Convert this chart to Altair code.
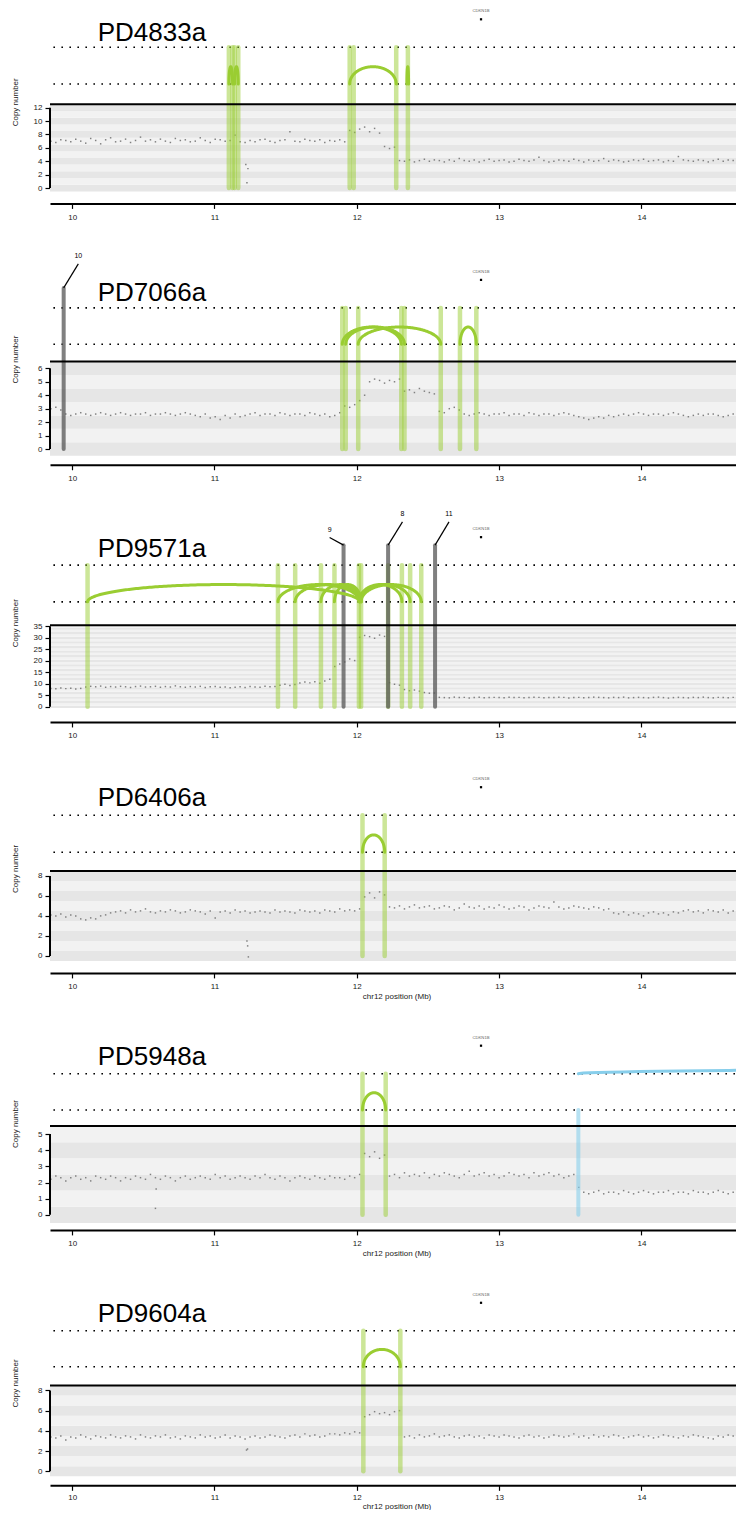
import altair as alt
import pandas as pd

FONT = "Liberation Sans"
PX_PER_MB = 142.3
PLOT_W = 693
X_DOMAIN = [9.844, 9.844 + PLOT_W / PX_PER_MB]
BIN_START = 9.85
BIN_STEP = 0.035
SPACING = 45
PAGE_TOP = 8
ARC_PX = 17.3
RIGHT_TRIM = -8.5

samples = ["PD4833a", "PD7066a", "PD9571a", "PD6406a", "PD5948a", "PD9604a"]
cn_max = [12, 6, 35, 8, 5, 8]
cn_ticks = [[0, 2, 4, 6, 8, 10, 12], [0, 1, 2, 3, 4, 5, 6], [0, 5, 10, 15, 20, 25, 30, 35],
            [0, 2, 4, 6, 8], [0, 1, 2, 3, 4, 5], [0, 2, 4, 6, 8]]
x_ticks = [10, 11, 12, 13, 14]
px_per_cn = [6.70, 13.45, 2.30, 10.0, 16.15, 10.1]
solid_y = [104.3, 361.0, 624.3, 870.0, 1125.0, 1384.3]
dot1_px = [57.0, 53.7, 60.0, 55.7, 52.3, 54.6]
dot2_px = [20.3, 17.3, 23.3, 18.7, 16.0, 18.7]
name_px = [63.6, 61.0, 68.3, 65.0, 61.0, 63.0]
axis_off = [12, 9, 14, 12, 7, 9]
label_pad = [5, 5, 5, 5, 5, 3]
title_pad = [2, 2, 2, 2, 2, 1]
has_xtitle = [False, False, False, True, True, True]

# copy-number bins (one value per 35 kb bin from 9.85 Mb)
cn_values = {
    "PD4833a": [
        7.0, 6.8, 7.2, 7.1, 6.9, 7.3, 7.0, 6.7, 7.4, 7.1, 6.6, 7.2, 7.5, 6.9, 7.0, 7.3, 6.8, 7.1, 7.6, 7.0,
        7.2, 6.9, 7.3, 7.0, 6.8, 7.4, 7.1, 7.2, 6.9, 7.0, 7.5, 7.1, 6.8, 7.3, 7.2, 7.0,
        7.1, 7.9, 6.9, 6.8,
        7.1, 6.9, 7.2, 7.3, 7.0, 6.8, 7.1, 7.2, 8.4, 7.0, 6.9, 7.3, 7.1, 7.0, 7.2, 6.8, 7.1, 7.0, 7.2, 6.9,
        8.6, 8.3, 8.8, 9.1, 8.4, 8.9, 8.2, 6.2, 5.9, 6.1,
        4.1, 4.0, 4.2, 3.9, 4.1, 4.3, 4.0, 4.2, 4.1, 3.9, 4.2, 4.0, 4.4, 4.1, 4.0, 4.2, 3.9, 4.1, 4.3, 4.0,
        4.1, 4.2, 3.9, 4.0, 4.3, 4.1, 4.0, 4.2, 4.6, 4.1, 3.9, 4.0, 4.2, 4.1, 4.0, 4.3, 4.1, 3.9, 4.2, 4.0,
        4.1, 4.4, 4.0, 4.2, 4.1, 3.9, 4.0, 4.2, 4.1, 4.3, 4.0, 4.1, 4.2, 3.9, 4.1, 4.0, 4.7, 4.2, 4.1, 4.0,
        4.2, 4.1, 3.9, 4.1, 4.3, 4.0, 4.2, 4.1, 4.0, 4.2],
    "PD7066a": [
        3.0, 3.1, 2.9, 2.6,
        2.5, 2.6, 2.7, 2.6, 2.5, 2.6, 2.7, 2.6, 2.5, 2.6, 2.7, 2.6, 2.5, 2.6, 2.6, 2.7, 2.5, 2.6, 2.6, 2.7,
        2.6, 2.5, 2.6, 2.7, 2.6, 2.5, 2.4, 2.6, 2.3, 2.4, 2.2, 2.5, 2.3, 2.6, 2.4, 2.5, 2.6, 2.7, 2.5, 2.6,
        2.6, 2.5, 2.7, 2.6, 2.5, 2.6, 2.6, 2.5, 2.7, 2.6, 2.5, 2.6, 2.4, 2.5, 2.7,
        3.2, 3.1, 3.3, 3.6, 4.0,
        5.0, 5.2, 5.1, 4.9, 5.1, 5.0, 5.2,
        4.3, 4.4, 4.2, 4.5, 4.3, 4.2, 4.1,
        2.8, 2.7, 3.0, 3.1, 2.9,
        2.6, 2.5, 2.6, 2.7, 2.6, 2.5, 2.6, 2.6, 2.7, 2.5, 2.6, 2.6, 2.5, 2.7, 2.6, 2.5, 2.6, 2.6, 2.5, 2.6,
        2.7, 2.6, 2.5, 2.4, 2.3, 2.2, 2.3, 2.4, 2.3, 2.5, 2.4, 2.5, 2.6, 2.5, 2.6, 2.7, 2.6, 2.5, 2.6, 2.6,
        2.5, 2.6, 2.7, 2.6, 2.5, 2.4, 2.5, 2.6, 2.5, 2.6, 2.6, 2.5, 2.4, 2.5, 2.6, 2.5, 2.6],
    "PD9571a": [
        8.0, 7.8, 8.2, 7.9, 8.1, 7.7, 8.0,
        8.6, 8.9, 8.7, 9.0, 8.5, 8.8, 8.6, 8.9, 8.7, 8.4, 8.8, 9.0, 8.6, 8.7, 8.9, 8.5, 8.8, 8.6, 9.1, 8.7,
        8.5, 8.8, 8.6, 8.9, 8.4, 8.7, 8.8, 8.5, 8.6, 8.3, 8.5, 8.7, 8.4, 8.8, 8.6, 8.5, 8.9, 8.7, 8.8,
        9.4, 9.8, 9.3, 9.7,
        10.3, 10.8, 10.4, 10.9, 10.2,
        11.2, 12.0, 17.5, 18.6, 19.5, 20.8, 20.1,
        30.2, 31.0, 30.5, 29.8, 31.2, 30.6,
        10.5, 9.8, 9.4, 7.5, 7.0, 7.3, 6.8, 6.2, 5.9, 6.0,
        4.1, 4.0, 3.9, 4.2, 4.0, 4.1, 3.8, 4.0, 4.2, 3.9, 4.0, 4.1, 4.0, 3.9, 4.2, 4.0, 4.1, 3.9, 4.0, 4.2,
        4.1, 3.9, 4.0, 4.0, 4.2, 4.1, 3.8, 4.0, 4.1, 3.9, 4.0, 4.2, 4.1, 4.0, 3.9, 4.1, 4.0, 4.2, 3.9, 4.0,
        4.1, 4.0, 3.9, 4.1, 4.2, 4.0, 3.8, 4.0, 4.1, 4.0, 3.9, 4.1, 4.0, 4.2, 4.0, 3.9, 4.1, 4.0, 3.9, 4.1,
        4.0, 3.9],
    "PD6406a": [
        4.1, 4.0, 4.2, 3.9, 4.1, 4.0, 3.7, 3.6, 3.8, 3.7, 4.0, 4.1,
        4.3, 4.4, 4.5, 4.3, 4.6, 4.4, 4.5, 4.7, 4.4, 4.3, 4.5, 4.4, 4.6, 4.5, 4.3, 4.4, 4.6, 4.5, 4.4, 4.2,
        4.5, 3.8, 4.4, 4.5, 4.3, 4.6, 4.4, 4.5, 4.3, 4.4, 4.5, 4.4, 4.3, 4.6, 4.4, 4.5, 4.4, 4.3, 4.6, 4.5,
        4.4, 4.5, 4.3, 4.6, 4.5, 4.4, 4.7, 4.5, 4.6, 4.5, 4.7,
        5.9, 6.3, 5.8, 6.4, 6.1,
        4.9, 4.8, 5.0, 4.7, 4.9, 5.1, 4.8, 4.9, 5.0, 4.7, 4.8, 5.0, 4.9, 4.6, 4.8, 5.2, 4.9, 4.8, 5.0, 4.7,
        4.9, 4.8, 5.1, 4.9, 4.7, 4.8, 5.0, 4.9, 4.6, 4.8, 5.0, 4.9, 4.8, 5.4, 4.9, 4.7, 4.8, 5.0, 4.9, 4.8,
        4.7, 4.9, 4.8, 4.6, 4.7,
        4.3, 4.2, 4.4, 4.1, 4.3, 4.2, 4.0, 4.3, 4.4, 4.2, 4.3, 4.1, 4.4, 4.3, 4.5, 4.6, 4.4, 4.5, 4.3, 4.6,
        4.5, 4.4, 4.6, 4.3, 4.5, 4.4, 4.6],
    "PD5948a": [
        2.2, 2.4, 2.3, 2.1, 2.3, 2.4, 2.2, 2.3, 2.1, 2.4, 2.3, 2.2, 2.4, 2.3, 2.1, 2.3, 2.2, 2.4, 2.3, 2.2,
        2.5, 2.3, 2.2, 2.4, 2.3, 2.1, 2.3, 2.4, 2.2, 2.3, 2.4, 2.3, 2.2, 2.5, 2.3, 2.4, 2.2, 2.3, 2.4, 2.3,
        2.2, 2.4, 2.3, 2.5, 2.3, 2.2, 2.4, 2.3, 2.1, 2.3, 2.4, 2.3, 2.2, 2.4, 2.3, 2.2, 2.4, 2.3, 2.3, 2.2,
        2.4, 2.3, 2.5,
        3.8, 3.6, 3.9, 3.5, 3.7,
        2.4, 2.5, 2.3, 2.6, 2.4, 2.5, 2.4, 2.6, 2.3, 2.5, 2.4, 2.6, 2.5, 2.4, 2.3, 2.5, 2.7, 2.4, 2.5, 2.6,
        2.4, 2.5, 2.3, 2.4, 2.6, 2.5, 2.4, 2.5, 2.3, 2.6, 2.4, 2.5, 2.6, 2.4, 2.5, 2.3, 2.4, 2.5,
        1.7,
        1.4, 1.3, 1.4, 1.5, 1.3, 1.4, 1.4, 1.3, 1.5, 1.4, 1.3, 1.4, 1.5, 1.4, 1.3, 1.4, 1.4, 1.5, 1.3, 1.4,
        1.4, 1.3, 1.5, 1.4, 1.4, 1.3, 1.4, 1.5, 1.4, 1.3, 1.4, 1.4, 1.3],
    "PD9604a": [
        3.4, 3.3, 3.5, 3.1, 3.4, 3.3, 3.6, 3.4, 3.2, 3.5, 3.4, 3.3, 3.6, 3.4, 3.3, 3.5, 3.4, 3.2, 3.6, 3.4,
        3.3, 3.5, 3.4, 3.6, 3.3, 3.4, 3.2, 3.5, 3.4, 3.3, 3.6, 3.4, 3.5, 3.3, 3.4, 3.6, 3.3, 3.5, 3.4, 3.2,
        3.4, 3.5, 3.3, 3.4, 3.6, 3.5, 3.4, 3.3, 3.5, 3.6, 3.4, 3.7, 3.5, 3.6, 3.4, 3.5, 3.7,
        3.7, 3.6, 3.8, 3.7, 3.9, 3.8,
        5.4, 5.6, 5.9, 5.7, 5.8, 5.6, 5.9, 6.0,
        3.4, 3.5, 3.3, 3.6, 3.4, 3.5, 3.7, 3.4, 3.5, 3.6, 3.4, 3.3, 3.5, 3.6, 3.4, 3.5, 3.3, 3.6, 3.5, 3.4,
        3.6, 3.5, 3.4, 3.3, 3.5, 3.6, 3.4, 3.5, 3.3, 3.4, 3.6, 3.5, 3.4, 3.5, 3.7, 3.4, 3.5, 3.3, 3.6, 3.4,
        3.5, 3.4, 3.6, 3.5, 3.3, 3.4, 3.5, 3.6, 3.4, 3.5, 3.3, 3.4, 3.6, 3.5, 3.4, 3.3, 3.5, 3.4, 3.6, 3.5,
        3.4, 3.3, 3.2, 3.5, 3.4, 3.6, 3.5, 3.3, 3.4],
}

# isolated probes that drop out of the segments
outlier_pos = {"PD4833a": [11.220, 11.235, 11.228], "PD6406a": [11.228, 11.233, 11.238],
               "PD5948a": [10.590, 10.585], "PD9604a": [11.225, 11.232]}
outlier_cn = {"PD4833a": [3.5, 2.9, 0.8], "PD6406a": [1.5, 1.0, -0.1],
              "PD5948a": [1.6, 0.4], "PD9604a": [2.1, 2.2]}

# rearrangement breakpoints (Mb)
green_lines = {
    "PD4833a": [11.101, 11.127, 11.141, 11.167, 11.950, 11.978, 12.277, 12.359],
    "PD7066a": [11.898, 11.922, 12.010, 12.313, 12.335, 12.590, 12.725, 12.840],
    "PD9571a": [10.108, 11.446, 11.567, 11.748, 11.843, 12.015, 12.030, 12.220, 12.317, 12.375, 12.453],
    "PD6406a": [12.040, 12.196],
    "PD5948a": [12.040, 12.203],
    "PD9604a": [12.046, 12.306],
}
green_arcs = {
    "PD4833a": [(11.101, 11.127), (11.141, 11.167), (11.950, 12.277), (12.352, 12.364)],
    "PD7066a": [(11.898, 12.313), (11.922, 12.335), (12.010, 12.590), (12.725, 12.840)],
    "PD9571a": [(10.108, 12.020), (11.446, 12.020), (11.567, 12.030), (11.748, 12.030),
                (11.843, 12.030), (12.015, 12.317), (12.020, 12.375), (12.030, 12.453)],
    "PD6406a": [(12.040, 12.196)],
    "PD5948a": [(12.040, 12.203)],
    "PD9604a": [(12.046, 12.306)],
}
grey_lines = {"PD7066a": [9.940], "PD9571a": [11.907, 12.220, 12.550]}
grey_labels = {"PD7066a": ["10"], "PD9571a": ["9", "8", "11"]}
grey_dx = {"PD7066a": [0.103], "PD9571a": [-0.098, 0.101, 0.098]}
grey_dy_px = {"PD7066a": [24.0], "PD9571a": [7.6, 23.3, 23.3]}
blue_lines = {"PD5948a": [13.557]}
blue_arcs = {"PD5948a": [(13.557, 128.8)]}

gene_name = "CDKN1B"
gene_pos = 12.873
y_title = "Copy number"
x_title = "chr12 position (Mb)"

GREEN = "#9acd32"
BLUE = "#87ceeb"

# vertical layout
above = []
prev_bottom = None
for i in range(6):
    plot_top = PAGE_TOP if i == 0 else prev_bottom + SPACING
    above.append(solid_y[i] - plot_top)
    prev_bottom = solid_y[i] + (cn_max[i] + 1) * px_per_cn[i]


def panel(i):
    s = samples[i]
    ppu = px_per_cn[i]
    top = cn_max[i] + 0.5
    A = above[i]
    H = A + (cn_max[i] + 1) * ppu

    def ty(px):
        return top + px / ppu

    xs = alt.Scale(domain=X_DOMAIN, nice=False, zero=False)
    ys = alt.Scale(domain=[-0.5, ty(A)], nice=False, zero=False)
    xaxis_kw = dict(values=x_ticks, format="d", offset=axis_off[i], domainWidth=2, domainColor="black",
                    tickColor="black", tickWidth=1.2, tickSize=5, labelFontSize=8, labelPadding=label_pad[i],
                    labelColor="#222", grid=False)
    if has_xtitle[i]:
        xaxis_kw.update(title=x_title, titleFontSize=8, titleFontWeight="normal", titlePadding=title_pad[i],
                        titleColor="#222")
    else:
        xaxis_kw["title"] = None
    xaxis = alt.Axis(**xaxis_kw)
    yaxis = alt.Axis(values=cn_ticks[i], domain=False, grid=False, tickColor="black", tickWidth=1.2, tickSize=5,
                     labelFontSize=8, labelPadding=3, labelColor="#222", title=None)

    def X(f):
        return alt.X(f, type="quantitative", scale=xs, axis=xaxis)

    def Y(f):
        return alt.Y(f, type="quantitative", scale=ys, axis=yaxis)

    layers = []
    # background bands
    bands = pd.DataFrame({
        "lo": [k - 0.5 for k in range(cn_max[i] + 1)],
        "hi": [k + 0.5 for k in range(cn_max[i] + 1)],
        "shade": ["#e6e6e6" if k % 2 == 0 else "#f2f2f2" for k in range(cn_max[i] + 1)],
        "x0": X_DOMAIN[0], "x1": X_DOMAIN[1]})
    layers.append(alt.Chart(bands).mark_rect().encode(
        x=X("x0"), x2="x1", y=Y("lo"), y2="hi", color=alt.Color("shade:N", scale=None)))

    # copy number probes
    vals = cn_values[s]
    pts = pd.DataFrame({"pos": [round(BIN_START + BIN_STEP * k, 4) for k in range(len(vals))], "cn": vals})
    if s in outlier_pos:
        pts = pd.concat([pts, pd.DataFrame({"pos": outlier_pos[s], "cn": outlier_cn[s]})])
    layers.append(alt.Chart(pts).mark_square(size=2.2, color="#808080", opacity=1).encode(
        x=X("pos"), y=Y("cn")))

    # dotted track guides
    dots = pd.DataFrame({"y": [ty(dot1_px[i]), ty(dot2_px[i])]})
    layers.append(alt.Chart(dots).mark_rule(color="black", strokeWidth=1.6, strokeDash=[1.6, 6.4]).encode(
        y=Y("y")))

    # green breakpoint lines
    gl = pd.DataFrame({"x": green_lines[s], "y0": 0.0, "y1": ty(dot1_px[i])})
    layers.append(alt.Chart(gl).mark_rule(color=GREEN, opacity=0.5, strokeWidth=4.5, strokeCap="round").encode(
        x=X("x"), y=Y("y0"), y2="y1"))

    if s in blue_lines:
        bl = pd.DataFrame({"x": blue_lines[s], "y0": 0.0, "y1": ty(dot2_px[i])})
        layers.append(alt.Chart(bl).mark_rule(color=BLUE, opacity=0.6, strokeWidth=4, strokeCap="round").encode(
            x=X("x"), y=Y("y0"), y2="y1"))

    if s in grey_lines:
        gtop = ty(dot1_px[i] + 20)
        gr = pd.DataFrame({"x": grey_lines[s], "y0": 0.0, "y1": gtop})
        layers.append(alt.Chart(gr).mark_rule(color="#555555", opacity=0.75, strokeWidth=4,
                                              strokeCap="round").encode(x=X("x"), y=Y("y0"), y2="y1"))
        dg = pd.DataFrame({
            "x": grey_lines[s],
            "x2": [a + b for a, b in zip(grey_lines[s], grey_dx[s])],
            "y": gtop,
            "y2": [ty(dot1_px[i] + 20 + d) for d in grey_dy_px[s]],
            "ly": [ty(dot1_px[i] + 20 + d + 7.5) for d in grey_dy_px[s]],
            "label": grey_labels[s]})
        layers.append(alt.Chart(dg).mark_rule(color="black", strokeWidth=1.2).encode(
            x=X("x"), x2="x2", y=Y("y"), y2="y2"))
        layers.append(alt.Chart(dg).mark_text(fontSize=7, color="black", baseline="middle", align="center").encode(
            x=X("x2"), y=Y("ly"), text="label:N"))

    # top border of copy-number panel
    layers.append(alt.Chart(pd.DataFrame({"y": [top]})).mark_rule(color="black", strokeWidth=2).encode(y=Y("y")))
    # y axis line from 0 to max
    layers.append(alt.Chart(pd.DataFrame({"x": [X_DOMAIN[0]], "y0": [0.0], "y1": [float(cn_max[i])]})).mark_rule(
        color="black", strokeWidth=2).encode(x=X("x"), y=Y("y0"), y2="y1"))

    def arcs(pairs, base, color):
        df = pd.DataFrame({"id": list(range(len(pairs))), "x1": [p[0] for p in pairs],
                           "x2": [p[1] for p in pairs], "base": base, "h": ARC_PX / ppu})
        return alt.Chart(df).transform_calculate(
            t="sequence(0, 181, 1)"
        ).transform_flatten(["t"]).transform_calculate(
            ax="(datum.x1 + datum.x2) / 2 + (datum.x2 - datum.x1) / 2 * cos(datum.t * PI / 180)",
            ay="datum.base + datum.h * sin(datum.t * PI / 180)",
        ).mark_line(color=color, strokeWidth=3, clip=True, strokeCap="round").encode(
            x=X("ax"), y=Y("ay"), detail="id:N", order="t:Q")

    layers.append(arcs(green_arcs[s], ty(dot2_px[i]), GREEN))
    if s in blue_arcs:
        layers.append(arcs(blue_arcs[s], ty(dot1_px[i]), BLUE))

    # sample name
    layers.append(alt.Chart(pd.DataFrame({"x": [10.179], "y": [ty(name_px[i])], "t": [s]})).mark_text(
        fontSize=26, align="left", baseline="alphabetic", color="black").encode(x=X("x"), y=Y("y"), text="t:N"))
    # gene marker
    layers.append(alt.Chart(pd.DataFrame({"x": [gene_pos], "y": [ty(dot1_px[i] + 36)], "t": [gene_name]})).mark_text(
        fontSize=4.2, color="#666", baseline="middle", align="center").encode(x=X("x"), y=Y("y"), text="t:N"))
    layers.append(alt.Chart(pd.DataFrame({"x": [gene_pos], "y": [ty(dot1_px[i] + 28)]})).mark_square(
        size=5, color="black", opacity=1).encode(x=X("x"), y=Y("y")))
    # y-axis title, centred on the copy-number panel's top border
    layers.append(alt.Chart(pd.DataFrame({"x": [X_DOMAIN[0] - 34 / PX_PER_MB], "y": [ty(2.0)], "t": [y_title]}))
                  .mark_text(fontSize=8, angle=270, align="center", baseline="middle", color="#222")
                  .encode(x=X("x"), y=Y("y"), text="t:N"))

    return alt.layer(*layers).properties(width=PLOT_W, height=H)


chart = alt.vconcat(*[panel(i) for i in range(6)], spacing=SPACING, bounds="flush").properties(
    padding={"left": 4, "top": 0, "right": RIGHT_TRIM, "bottom": -1}
).configure_view(stroke=None).configure_axis(labelFont=FONT, titleFont=FONT).configure_text(font=FONT)

chart.save("out.html", embed_options={"renderer": "svg", "actions": False})
